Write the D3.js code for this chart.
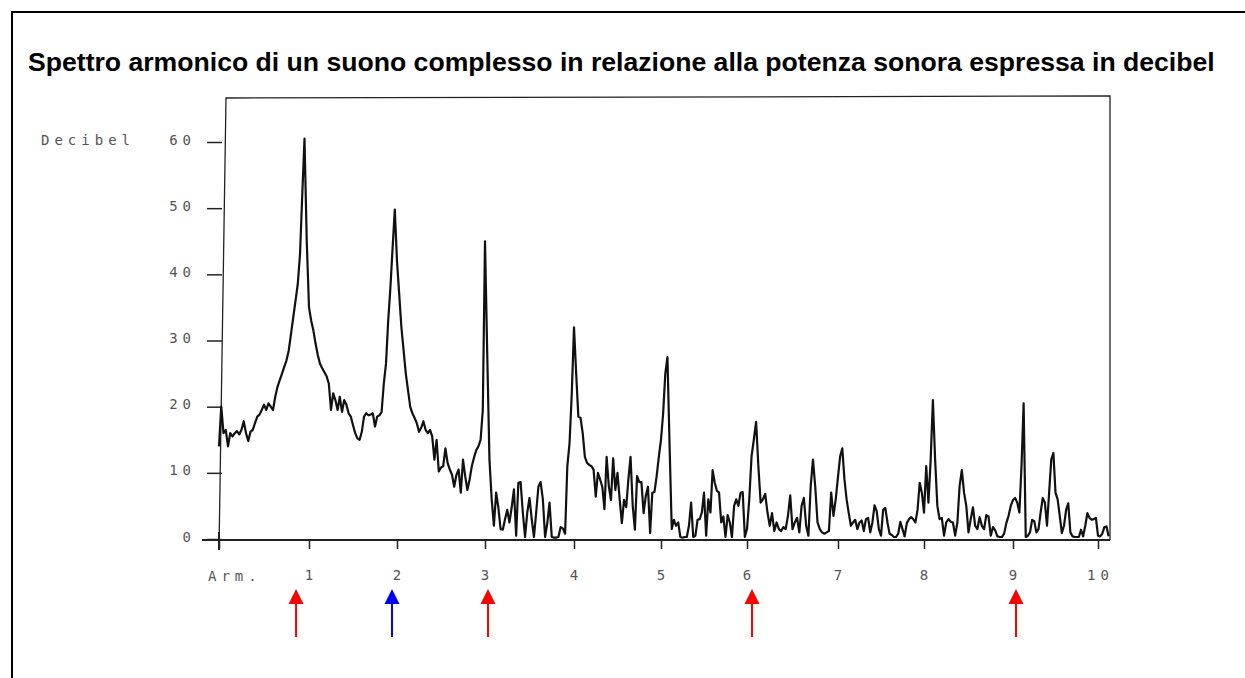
<!DOCTYPE html>
<html lang="it">
<head>
<meta charset="UTF-8">
<title>Spettro armonico</title>
<script src="https://d3js.org/d3.v7.min.js"></script>
<style>
  body { margin: 0; background: #fff; }
  .lbl { font-family: "DejaVu Sans Mono", monospace; font-size: 14px; fill: #555; letter-spacing: 5px; }
</style>
</head>
<body>
<div id="chart"></div>
<script>
// dB level, 40 samples per harmonic interval (step 0.025)
const arm0 = [14,20,16,16.5,14,16,15.5,16,16.3,15.8,16.5,17.8,16,14.8,16.2,16.5,17.5,18.5,18.8,19.5,20.3,19.5,20.5,20,19.5,21.5,23,24,25,26,27,28.5,31,33.5,36,38.5,43,52,60.5,45];
const arm1 = [35,33,31.5,29.5,27.8,26.5,25.8,25.2,24.6,23.5,19.5,22,21,19.5,21.5,19.2,21,20.3,19,18.5,17.2,16,15.2,15,16.2,18.5,19,18.7,18.8,19,17,18.5,18.7,19.2,23.5,26.5,33,38,44,49.8];
const arm2 = [42,37,32,28.5,25,22.5,20,19,18.3,17.5,16.2,16.8,17.8,16.5,16,16.5,15.5,12,15,10.2,10.8,11,13.7,11.5,10.5,9.7,7.9,9.7,10.5,7,12,9.5,7.4,9,11,12.3,13.4,14,15,19.5];
const arm3 = [45,28,12,6,2,7,4.8,1.5,1.4,3,4.4,2.5,4.8,7.5,0.5,8.5,8.6,4,0.3,4,6.2,3,0.3,4,7.9,8.6,6,0.3,2.4,5.5,0.3,0.2,0.2,0.3,1.8,1.6,0.8,11,14.5,22];
const arm4 = [32,25,18.5,18.3,16,12.4,11.5,11.2,11,10.5,6.4,10,9,7.9,4.5,12.4,8,5.9,12.2,7.4,10,6,2.4,5.9,4.8,9,12.4,5,1.4,9.5,8.6,8.6,3.9,6.5,7.9,0.9,7,7.1,9.5,12.4];
const arm5 = [15,19,25,27.5,14,1.5,2.9,2,2.5,0.3,0.2,0.3,0.3,2,5.5,0.3,0.5,2.9,3,4,7,0.5,6,4,10.4,8.5,7.3,7,2.5,3.4,0.3,3.6,2.5,0.3,5,6,5,7,7.1,0.3];
const arm6 = [1.5,6,12.5,15,17.7,11,5.5,6,6.8,4,2,3.9,1.2,2.5,1.5,1.2,1.8,1.5,3.5,6.6,1.5,2.5,3.2,1,5,6.2,2,0.5,8,12,7.9,2.5,1.5,1,0.8,1,1.2,7,3.5,6];
const arm7 = [9.4,12.5,13.7,9,6,3.9,2,2.5,2.9,1.5,2.5,2.8,1.2,3,3.2,1,2.5,5.1,4.2,1.5,0.5,4.4,4.7,2.5,0.8,0.6,0.3,0.3,0.8,2.6,1.5,0.4,2.4,3,3.3,3,2.5,4.4,8.5,7];
const arm8 = [4,11,5.5,12,21,12,5,3,3.2,0.5,2.5,3,2.6,2.5,0.5,2.5,8,10.4,7,5,1,3,4.8,2,1.5,3.3,2,1.5,3.6,3.4,0.5,1.8,1.3,0.4,0.3,0.3,0.8,2.4,3.5,5];
const arm9 = [5.9,6.2,5.5,4,11,20.5,0.3,0.5,1,2.9,2.7,1,1.5,4,6.2,5.5,2,7,12,13,7,6,3.5,0.9,2,4.4,5.4,1,0.4,0.3,0.3,0.3,1.4,0.4,2,3.9,3.2,2.9,3,3.2];
const arm10 = [0.5,0.4,0.8,1.8,1.9,0.4];
const step = 0.025;

const xTicks = [0, 1, 2, 3, 4, 5, 6, 7, 8, 9, 10];
const yTicks = [0, 10, 20, 30, 40, 50, 60];
const arrowAt = [0.856, 1.943, 3.034, 6.055, 9.035];
const arrowColor = ['#ff0000', '#0000ff', '#ff0000', '#ff0000', '#ff0000'];

const width = 1245, height = 678;
const svg = d3.select('#chart').append('svg')
  .attr('width', width).attr('height', height);

// outer frame
svg.append('rect')
  .attr('x', 12).attr('y', 12).attr('width', 1250).attr('height', 700)
  .attr('fill', 'none').attr('stroke', '#000').attr('stroke-width', 2);

svg.append('text')
  .attr('x', 28).attr('y', 71)
  .style('font-family', '"Liberation Sans", Arial, sans-serif')
  .style('font-weight', 'bold').style('font-size', '26.6px')
  .text('Spettro armonico di un suono complesso in relazione alla potenza sonora espressa in decibel');

// scanned axis is slightly uneven, so ticks sit where they were printed
const x = d3.scaleLinear().domain(xTicks)
  .range([219, 309, 397, 485, 574, 661, 747, 838, 924, 1013, 1098]);
const y = d3.scaleLinear().domain([0, 60]).range([539, 142]);

// plot box
const box = svg.append('g').attr('fill', 'none').attr('stroke', '#222');
box.append('path').attr('d', 'M219,550 L226,98 L1110,96 L1110,540').attr('stroke-width', 1.3);
box.append('line').attr('x1', 202).attr('x2', 1110).attr('y1', 540).attr('y2', 540).attr('stroke-width', 2);
box.append('line').attr('x1', 219).attr('x2', 219).attr('y1', 532).attr('y2', 550).attr('stroke-width', 2);

const yAxis = svg.append('g').attr('transform', 'translate(222,0)')
  .call(d3.axisLeft(y).tickValues(yTicks).tickSize(15).tickPadding(11));
yAxis.select('.domain').remove();
yAxis.selectAll('line').attr('stroke', '#222').attr('stroke-width', 1.5);
yAxis.selectAll('text').attr('class', 'lbl').attr('dy', '0.15em');

const xAxis = svg.append('g').attr('transform', 'translate(0,540)')
  .call(d3.axisBottom(x).tickValues(xTicks).tickSize(9).tickPadding(21)
    .tickFormat(d => d === 0 ? '' : d));
xAxis.select('.domain').remove();
xAxis.selectAll('line').attr('stroke', '#222').attr('stroke-width', 1.5);
xAxis.selectAll('text').attr('class', 'lbl').attr('dx', '2px');

svg.append('text').attr('class', 'lbl').attr('x', 41).attr('y', 145).text('Decibel');
svg.append('text').attr('class', 'lbl').attr('x', 208).attr('y', 581).text('Arm.');

// spectrum trace
const segments = [arm0, arm1, arm2, arm3, arm4, arm5, arm6, arm7, arm8, arm9, arm10];
const points = segments.flatMap((seg, k) => seg.map((v, i) => ({ h: k + i * step, db: v })));
const line = d3.line().x(d => x(d.h)).y(d => y(d.db));
svg.append('path').datum(points)
  .attr('d', line)
  .attr('fill', 'none').attr('stroke', '#111')
  .attr('stroke-width', 2.2).attr('stroke-linejoin', 'round');

// arrows under the harmonics
const arrows = svg.append('g');
arrowAt.forEach((h, i) => {
  const ax = x(h);
  arrows.append('line')
    .attr('x1', ax).attr('x2', ax).attr('y1', 602).attr('y2', 637)
    .attr('stroke', arrowColor[i]).attr('stroke-width', 2);
  arrows.append('path')
    .attr('d', `M${ax},589 L${ax - 7.5},604 L${ax + 7.5},604 Z`)
    .attr('fill', arrowColor[i]);
});
</script>
</body>
</html>
